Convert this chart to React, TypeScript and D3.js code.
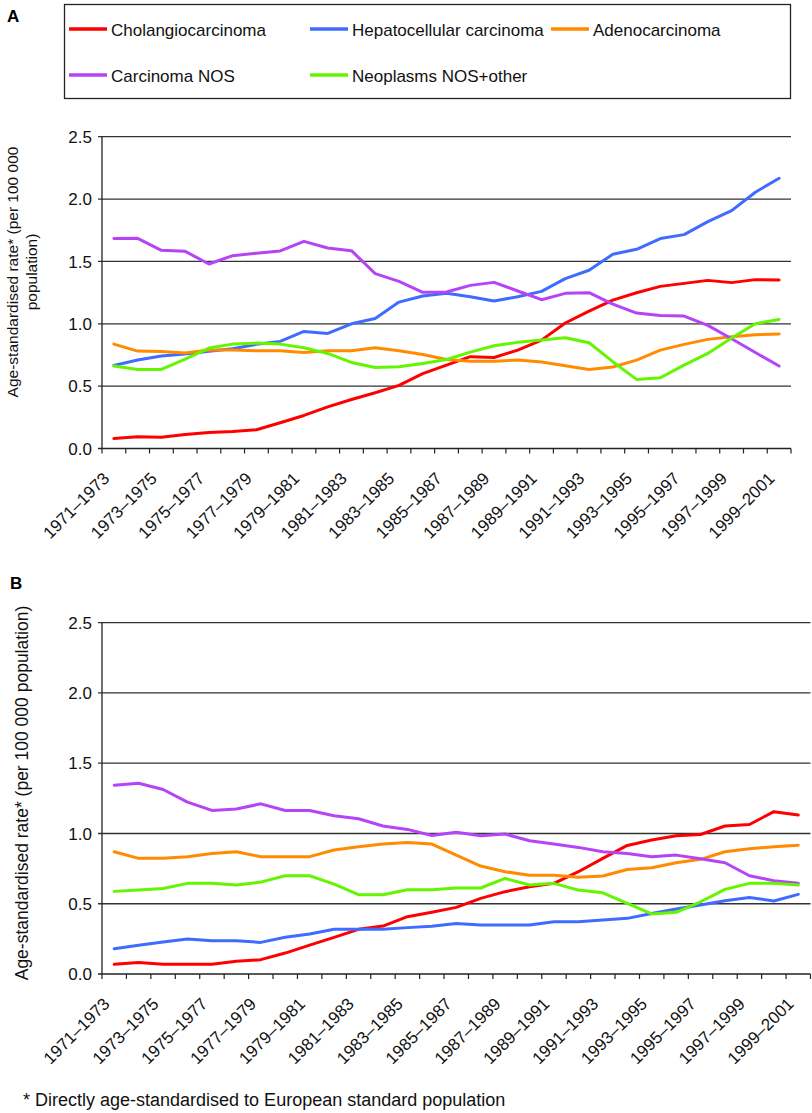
import React from "react";
import * as d3 from "d3";

const categories = [
  "1971–1973","1972–1974","1973–1975","1974–1976","1975–1977","1976–1978","1977–1979","1978–1980",
  "1979–1981","1980–1982","1981–1983","1982–1984","1983–1985","1984–1986","1985–1987","1986–1988",
  "1987–1989","1988–1990","1989–1991","1990–1992","1991–1993","1992–1994","1993–1995","1994–1996",
  "1995–1997","1996–1998","1997–1999","1998–2000","1999–2001",
];

const seriesNames = ["Cholangiocarcinoma", "Hepatocellular carcinoma", "Adenocarcinoma", "Carcinoma NOS", "Neoplasms NOS+other"];
const seriesColors = ["#ff0000", "#3f6cff", "#ff8c00", "#b544f7", "#64f500"];
const yTicks = [0, 0.5, 1.0, 1.5, 2.0, 2.5];

// Panel A
const cholA = [0.08,0.094,0.091,0.112,0.128,0.136,0.15,0.206,0.265,0.334,0.393,0.447,0.506,0.60,0.669,0.736,0.73,0.789,0.869,1.006,1.102,1.19,1.249,1.30,1.324,1.348,1.33,1.354,1.351];
const hepA = [0.666,0.709,0.741,0.757,0.78,0.80,0.835,0.859,0.939,0.923,1.0,1.043,1.174,1.223,1.244,1.217,1.182,1.217,1.26,1.362,1.429,1.557,1.597,1.683,1.715,1.819,1.907,2.055,2.167];
const adenoA = [0.837,0.781,0.778,0.765,0.789,0.789,0.784,0.784,0.770,0.784,0.784,0.808,0.784,0.754,0.714,0.70,0.70,0.709,0.693,0.663,0.634,0.653,0.709,0.789,0.835,0.875,0.896,0.912,0.918];
const nosA = [1.683,1.685,1.589,1.581,1.479,1.546,1.565,1.584,1.661,1.608,1.586,1.402,1.34,1.252,1.255,1.308,1.332,1.263,1.193,1.244,1.249,1.158,1.086,1.067,1.062,0.987,0.880,0.770,0.661];
const neoA = [0.661,0.634,0.634,0.717,0.805,0.837,0.845,0.837,0.808,0.762,0.690,0.650,0.655,0.682,0.714,0.773,0.824,0.851,0.869,0.888,0.848,0.696,0.554,0.567,0.669,0.762,0.886,1.0,1.035];

// Panel B
const cholB = [0.069,0.081,0.069,0.069,0.069,0.09,0.102,0.149,0.206,0.261,0.318,0.341,0.408,0.44,0.474,0.538,0.586,0.621,0.645,0.728,0.823,0.915,0.953,0.984,0.993,1.053,1.064,1.155,1.131];
const hepB = [0.18,0.204,0.228,0.249,0.237,0.237,0.225,0.261,0.284,0.318,0.318,0.318,0.33,0.34,0.36,0.349,0.349,0.349,0.372,0.372,0.384,0.396,0.431,0.462,0.491,0.522,0.545,0.519,0.567];
const adenoB = [0.870,0.823,0.823,0.835,0.858,0.870,0.835,0.835,0.835,0.882,0.906,0.925,0.936,0.925,0.846,0.768,0.728,0.702,0.702,0.688,0.697,0.744,0.756,0.792,0.816,0.870,0.891,0.906,0.917];
const nosB = [1.344,1.358,1.313,1.223,1.164,1.174,1.211,1.164,1.164,1.126,1.105,1.053,1.029,0.986,1.008,0.984,0.996,0.948,0.925,0.901,0.870,0.858,0.835,0.846,0.820,0.792,0.699,0.664,0.645];
const neoB = [0.588,0.597,0.609,0.645,0.645,0.633,0.654,0.699,0.699,0.640,0.564,0.564,0.600,0.600,0.612,0.612,0.680,0.633,0.645,0.597,0.578,0.503,0.427,0.439,0.514,0.602,0.645,0.645,0.633];

const FONT = "'Liberation Sans', Arial, Helvetica, sans-serif";

type PanelProps = {
  series: number[][];
  x0: number; x1: number; yTop: number; yBottom: number;
};

function Panel({ series, x0, x1, yTop, yBottom }: PanelProps) {
  const x = d3.scaleBand<string>().domain(categories).range([x0, x1]).padding(0);
  const y = d3.scaleLinear().domain([0, 2.5]).range([yBottom, yTop]);
  const bw = x.bandwidth();
  const cx = (c: string) => (x(c) as number) + bw / 2;
  const line = d3.line<number>().x((_, i) => cx(categories[i])).y((v) => y(v));
  const tickXs = categories.map((c) => x(c) as number).concat([x1]);
  return (
    <g>
      {yTicks.map((t) => (
        <g key={t}>
          {t > 0 && <line x1={x0 - 4} x2={x1} y1={y(t)} y2={y(t)} stroke="#333" strokeWidth={1.3} />}
          <text x={x0 - 10} y={y(t)} dy="0.36em" textAnchor="end" fontSize={17} fontFamily={FONT} fill="#111">
            {t.toFixed(1)}
          </text>
        </g>
      ))}
      <line x1={x0} x2={x0} y1={yTop} y2={yBottom} stroke="#222" strokeWidth={1.3} />
      <line x1={x0 - 4} x2={x1} y1={yBottom} y2={yBottom} stroke="#222" strokeWidth={1.3} />
      {tickXs.map((tx, i) => (
        <line key={i} x1={tx} x2={tx} y1={yBottom} y2={yBottom + 5} stroke="#222" strokeWidth={1.2} />
      ))}
      {categories.map((c, i) =>
        i % 2 === 0 ? (
          <text key={c} transform={`translate(${cx(c) - 3.5},${yBottom + 31}) rotate(-45)`}
            textAnchor="end" fontSize={17} fontFamily={FONT} fill="#111">{c}</text>
        ) : null
      )}
      {series.map((s, k) => (
        <path key={k} d={line(s) as string} fill="none" stroke={seriesColors[k]} strokeWidth={3}
          strokeLinejoin="round" strokeLinecap="round" />
      ))}
    </g>
  );
}

export default function App() {
  const legendCols = [69, 310, 551];
  const legendRows = [29, 75];
  return (
    <svg width={812} height={1113} style={{ position: "absolute", left: 0, top: 0, background: "#fff" }}>
      <rect x={0} y={0} width={812} height={1113} fill="#fff" />
      <text x={7} y={22} fontSize={17} fontWeight="bold" fontFamily={FONT}>A</text>
      <rect x={64.5} y={4.5} width={726} height={94} fill="none" stroke="#222" strokeWidth={1.3} />
      {seriesNames.map((n, k) => {
        const lx = legendCols[k < 3 ? k : k - 3];
        const ly = legendRows[k < 3 ? 0 : 1];
        return (
          <g key={n}>
            <line x1={lx} x2={lx + 38} y1={ly} y2={ly} stroke={seriesColors[k]} strokeWidth={3.5} />
            <text x={lx + 42} y={ly + 6.5} fontSize={17} fontFamily={FONT} fill="#111">{n}</text>
          </g>
        );
      })}
      <text transform="translate(18,272) rotate(-90)" textAnchor="middle" fontSize={15.5} fontFamily={FONT} fill="#111">
        Age-standardised rate* (per 100 000
      </text>
      <text transform="translate(37,272) rotate(-90)" textAnchor="middle" fontSize={15.5} fontFamily={FONT} fill="#111">
        population)
      </text>
      <Panel series={[cholA, hepA, adenoA, nosA, neoA]} x0={102} x1={791} yTop={136.7} yBottom={448.5} />

      <text x={10} y={589} fontSize={17} fontWeight="bold" fontFamily={FONT}>B</text>
      <text transform="translate(28,793) rotate(-90)" textAnchor="middle" fontSize={17.5} fontFamily={FONT} fill="#111">
        Age-standardised rate* (per 100 000 population)
      </text>
      <Panel series={[cholB, hepB, adenoB, nosB, neoB]} x0={102} x1={810.5} yTop={622.7} yBottom={974} />

      <text x={23} y={1106} fontSize={18} fontFamily={FONT} fill="#111">
        * Directly age-standardised to European standard population
      </text>
    </svg>
  );
}
